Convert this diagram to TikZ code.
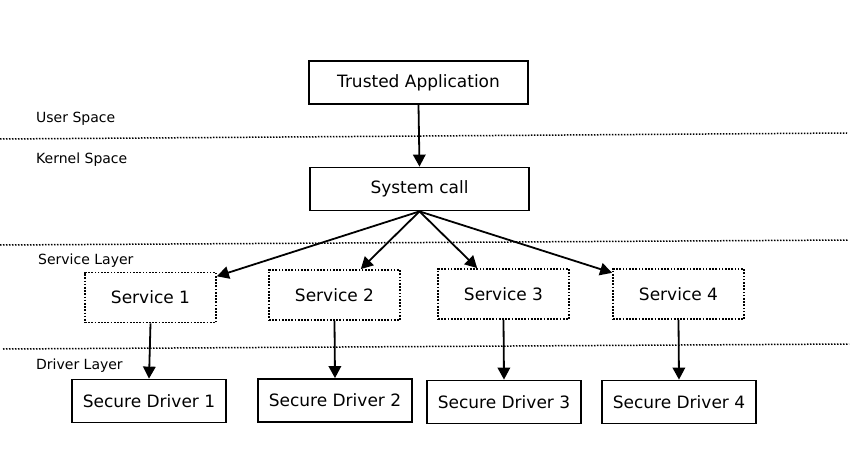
\documentclass[tikz,border=0pt]{standalone}
\usepackage{fontspec}
\setmainfont{DejaVu Sans}
\usetikzlibrary{arrows.meta}

\tikzset{
	box/.style={draw, line width=1.8pt, inner sep=0pt, font=\fontsize{17}{20}\selectfont},
	solidbox/.style={box, minimum width=219pt, minimum height=43pt},
	servbox/.style={box, dash pattern=on 1.7pt off 1.5pt, line width=1.8pt, minimum width=131pt, minimum height=50pt},
	drvbox/.style={box, minimum width=154pt, minimum height=43pt},
	layer/.style={anchor=base west, inner sep=0pt, font=\fontsize{14}{16}\selectfont},
	sep/.style={line width=1.5pt, dash pattern=on 1.5pt off 1.5pt},
	arr/.style={-{Triangle[length=12pt,width=12.5pt]}, line width=1.8pt}
}

\begin{document}
\begin{tikzpicture}[x=1pt,y=-1pt]
\useasboundingbox (0,0) rectangle (851,476);
% boxes
\node[solidbox] (ta) at (418.5,82.5) {Trusted Application};
\node[solidbox] (sc) at (419.5,189) {System call};
\node[servbox] (s1) at (150.5,297.5) {Service 1};
\node[servbox] (s2) at (334.5,295) {Service 2};
\node[servbox] (s3) at (503.5,294) {Service 3};
\node[servbox] (s4) at (678.5,294) {Service 4};
\node[drvbox] (d1) at (149,401) {Secure Driver 1};
\node[drvbox] (d2) at (335,400.5) {Secure Driver 2};
\node[drvbox] (d3) at (504,402) {Secure Driver 3};
\node[drvbox] (d4) at (679,402) {Secure Driver 4};
% layers
\draw[sep] (0,139) -- (847,133);
\draw[sep] (0,245) -- (848,240);
\draw[sep] (3,349) -- (849,344);
\node[layer] (us) at (36,123) {User Space};
\node[layer] (ks) at (36,164) {Kernel Space};
\node[layer] (sl) at (38,264) {Service Layer};
\node[layer] (dl) at (36,369) {Driver Layer};
% arrows
\draw[arr] (ta.south) -- (sc.north);
\foreach \s in {s1,s2,s3,s4}
	\draw[arr] (sc.south) -- (\s);
\foreach \i in {1,2,3,4}
	\draw[arr] (s\i.south) -- (d\i.north);
\end{tikzpicture}
\end{document}
